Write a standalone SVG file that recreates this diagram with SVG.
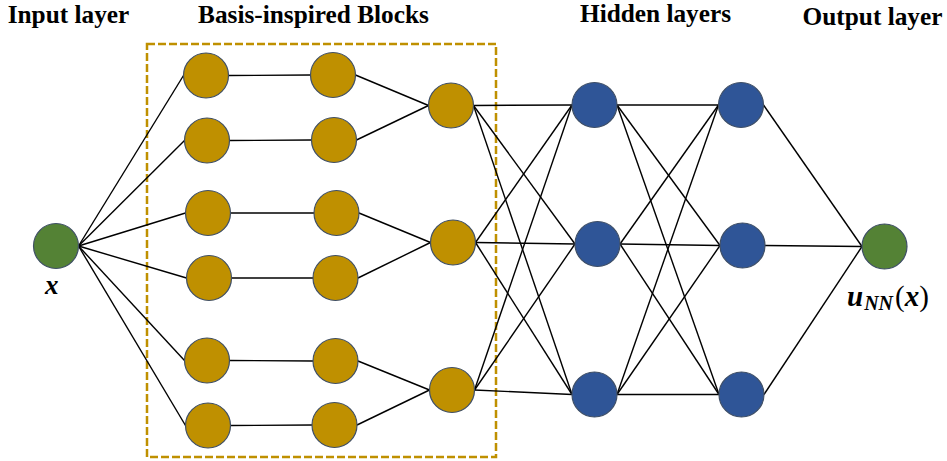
<svg xmlns="http://www.w3.org/2000/svg" width="947" height="461" viewBox="0 0 947 461">
<style>
.t{font-weight:bold;font-size:25.3px;fill:#000;text-anchor:middle}
.m{font-weight:bold;font-style:italic;fill:#000}
.n{stroke:#3f4f66;stroke-width:1.2}
.g{fill:#BF9000}
.b{fill:#2F5597}
.gr{fill:#548235}
.e line{stroke:#000;stroke-width:1.4}
</style>
<rect width="947" height="461" fill="#fff"/>
<g font-family="Liberation Serif, DejaVu Serif, serif">
<text class="t" x="68.5" y="23">Input layer</text>
<text class="t" x="313.5" y="23">Basis-inspired Blocks</text>
<text class="t" x="655.5" y="22">Hidden layers</text>
<text class="t" x="872.5" y="25">Output layer</text>
</g>
<rect x="147" y="44" width="349" height="413" fill="none" stroke="#BF9000" stroke-width="2.5" stroke-dasharray="8 3"/>
<g id="connectors" class="e">
<line x1="78.5" y1="246" x2="183.5" y2="75.5"/>
<line x1="78.5" y1="246" x2="184.5" y2="140.5"/>
<line x1="78.5" y1="246" x2="185.5" y2="213"/>
<line x1="78.5" y1="246" x2="186.5" y2="278"/>
<line x1="78.5" y1="246" x2="184.5" y2="360.5"/>
<line x1="78.5" y1="246" x2="185.5" y2="425.5"/>
<line x1="228.5" y1="75.5" x2="310.5" y2="75"/>
<line x1="229.5" y1="140.5" x2="311.5" y2="140"/>
<line x1="230.5" y1="213" x2="314" y2="213"/>
<line x1="231.5" y1="278" x2="313" y2="278"/>
<line x1="229.5" y1="360.5" x2="313" y2="361"/>
<line x1="230.5" y1="425.5" x2="312" y2="425"/>
<line x1="355.5" y1="75" x2="428.5" y2="105.5"/>
<line x1="356.5" y1="140" x2="428.5" y2="105.5"/>
<line x1="359" y1="213" x2="430.5" y2="242.5"/>
<line x1="358" y1="278" x2="430.5" y2="242.5"/>
<line x1="358" y1="361" x2="429.5" y2="390"/>
<line x1="357" y1="425" x2="429.5" y2="390"/>
<line x1="473.5" y1="105.5" x2="572" y2="105"/>
<line x1="473.5" y1="105.5" x2="575" y2="244"/>
<line x1="473.5" y1="105.5" x2="572" y2="394.5"/>
<line x1="475.5" y1="242.5" x2="572" y2="105"/>
<line x1="475.5" y1="242.5" x2="575" y2="244"/>
<line x1="475.5" y1="242.5" x2="572" y2="394.5"/>
<line x1="474.5" y1="390" x2="572" y2="105"/>
<line x1="474.5" y1="390" x2="575" y2="244"/>
<line x1="474.5" y1="390" x2="572" y2="394.5"/>
<line x1="617" y1="105" x2="718.5" y2="105"/>
<line x1="617" y1="105" x2="720" y2="245.5"/>
<line x1="617" y1="105" x2="719" y2="394.5"/>
<line x1="620" y1="244" x2="718.5" y2="105"/>
<line x1="620" y1="244" x2="720" y2="245.5"/>
<line x1="620" y1="244" x2="719" y2="394.5"/>
<line x1="617" y1="394.5" x2="718.5" y2="105"/>
<line x1="617" y1="394.5" x2="720" y2="245.5"/>
<line x1="617" y1="394.5" x2="719" y2="394.5"/>
<line x1="763.5" y1="105" x2="862" y2="246.5"/>
<line x1="765" y1="245.5" x2="862" y2="246.5"/>
<line x1="764" y1="394.5" x2="862" y2="246.5"/>
</g>
<g id="input"><circle class="n gr" cx="56" cy="246" r="22.5"/></g>
<g id="g1a"><circle class="n g" cx="206" cy="75.5" r="22.5"/></g>
<g id="g1b"><circle class="n g" cx="207" cy="140.5" r="22.5"/></g>
<g id="g1c"><circle class="n g" cx="208" cy="213" r="22.5"/></g>
<g id="g1d"><circle class="n g" cx="209" cy="278" r="22.5"/></g>
<g id="g1e"><circle class="n g" cx="207" cy="360.5" r="22.5"/></g>
<g id="g1f"><circle class="n g" cx="208" cy="425.5" r="22.5"/></g>
<g id="g2a"><circle class="n g" cx="333" cy="75" r="22.5"/></g>
<g id="g2b"><circle class="n g" cx="334" cy="140" r="22.5"/></g>
<g id="g2c"><circle class="n g" cx="336.5" cy="213" r="22.5"/></g>
<g id="g2d"><circle class="n g" cx="335.5" cy="278" r="22.5"/></g>
<g id="g2e"><circle class="n g" cx="335.5" cy="361" r="22.5"/></g>
<g id="g2f"><circle class="n g" cx="334.5" cy="425" r="22.5"/></g>
<g id="m1"><circle class="n g" cx="451" cy="105.5" r="22.5"/></g>
<g id="m2"><circle class="n g" cx="453" cy="242.5" r="22.5"/></g>
<g id="m3"><circle class="n g" cx="452" cy="390" r="22.5"/></g>
<g id="h1a"><circle class="n b" cx="594.5" cy="105" r="22.5"/></g>
<g id="h1b"><circle class="n b" cx="597.5" cy="244" r="22.5"/></g>
<g id="h1c"><circle class="n b" cx="594.5" cy="394.5" r="22.5"/></g>
<g id="h2a"><circle class="n b" cx="741" cy="105" r="22.5"/></g>
<g id="h2b"><circle class="n b" cx="742.5" cy="245.5" r="22.5"/></g>
<g id="h2c"><circle class="n b" cx="741.5" cy="394.5" r="22.5"/></g>
<g id="output"><circle class="n gr" cx="884.5" cy="246.5" r="22.5"/></g>
<g font-family="Liberation Serif, DejaVu Serif, serif">
<text class="m" x="45" y="294" font-size="27">x</text>
<text class="m" x="847" y="306" font-size="29">u<tspan font-size="20" dy="4" dx="1">NN</tspan><tspan dy="-4" dx="2" font-style="normal" font-weight="normal">(</tspan>x<tspan font-style="normal" font-weight="normal">)</tspan></text>
</g>
</svg>
